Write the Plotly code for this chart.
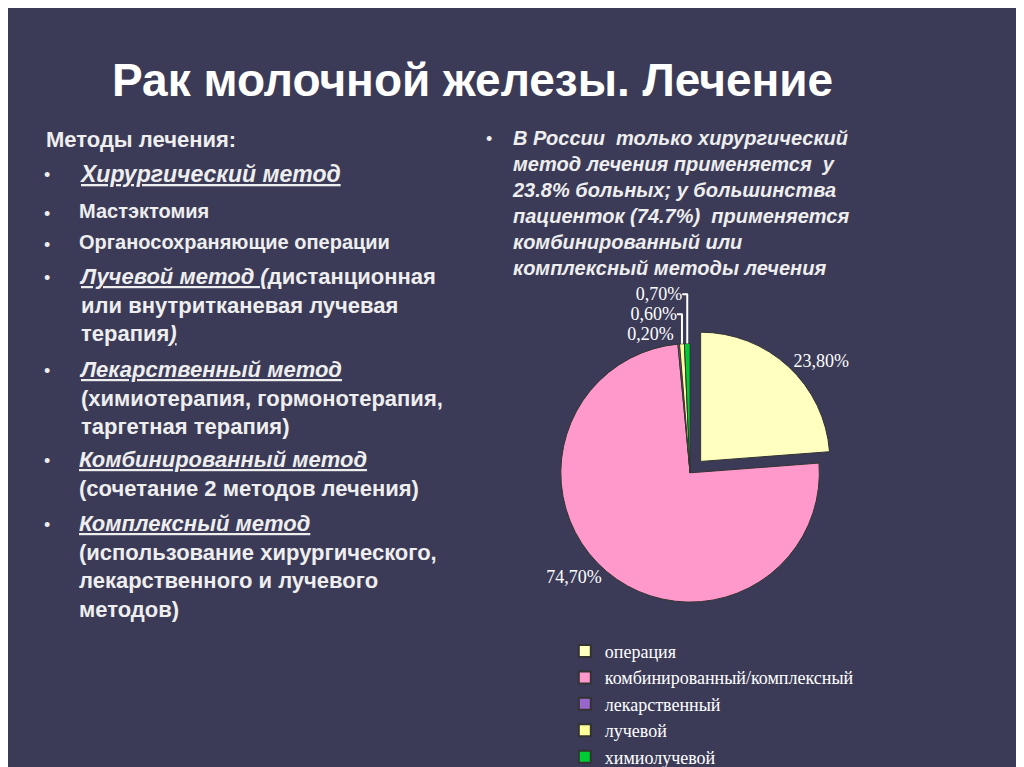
import plotly.graph_objects as go

labels = ["операция", "комбинированный/комплексный", "лекарственный", "лучевой", "химиолучевой"]
values = [23.8, 74.7, 0.2, 0.6, 0.7]
value_text = ["23,80%", "74,70%", "0,20%", "0,60%", "0,70%"]
colors = ["#ffffc0", "#ff99cc", "#9966cc", "#ffff99", "#00cc33"]

W, H = 1024, 767
fig = go.Figure()
fig.add_trace(go.Pie(
    labels=labels, values=values, text=value_text, textinfo="text",
    textposition="outside", sort=False, direction="clockwise", rotation=0,
    pull=[0.12, 0, 0, 0, 0],
    marker=dict(colors=colors, line=dict(color="#333333", width=1)),
    textfont=dict(family="Liberation Serif", size=18, color="white"),
    domain=dict(x=[0.5, 0.97], y=[0.2, 0.58]),
))

def ann(px, py, text, size=17, color="#eeeeee", xanchor="left"):
    fig.add_annotation(x=(px - 8) / W, y=1 - (py - 8) / H, xref="paper", yref="paper",
                       text=text, showarrow=False, xanchor=xanchor, yanchor="top",
                       align="left", font=dict(family="Liberation Sans", size=size, color=color))

ann(520, 52, "<b>Рак молочной железы. Лечение</b>", size=46, color="white", xanchor="center")
ann(48, 126, "<b>Методы лечения:</b>", size=22)
left = [
    (160, "<b><i><u>Хирургический метод</u></i></b>", 23),
    (199, "<b>Мастэктомия</b>", 20),
    (230, "<b>Органосохраняющие операции</b>", 20),
    (264, "<b><i><u>Лучевой метод (</u></i></b><b>дистанционная<br>или внутритканевая лучевая<br>терапия<i><u>)</u></i></b>", 22),
    (357, "<b><i><u>Лекарственный метод</u></i></b><br><b>(химиотерапия, гормонотерапия,<br>таргетная терапия)</b>", 22),
    (448, "<b><i><u>Комбинированный метод</u></i></b><br><b>(сочетание 2 методов лечения)</b>", 22),
    (512, "<b><i><u>Комплексный метод</u></i></b><br><b>(использование хирургического,<br>лекарственного и лучевого<br>методов)</b>", 22),
]
for py, t, s in left:
    ann(46, py + 4, "•", size=18)
    ann(84, py, t, size=s)
ann(533, 128, "•", size=18)
ann(562, 126, "<b><i>В России  только хирургический<br>метод лечения применяется  у<br>23.8% больных; у большинства<br>пациенток (74.7%)  применяется<br>комбинированный или<br>комплексный методы лечения</i></b>", size=20)

fig.update_layout(
    width=W, height=H, paper_bgcolor="#3b3b58", plot_bgcolor="#3b3b58",
    margin=dict(l=0, r=0, t=0, b=0), showlegend=True,
    legend=dict(x=0.6, y=0.18, xanchor="left", yanchor="top", bgcolor="rgba(0,0,0,0)",
                font=dict(family="Liberation Serif", size=18, color="white"),
                tracegroupgap=0, itemsizing="constant"),
)
fig.write_html("out.html")
